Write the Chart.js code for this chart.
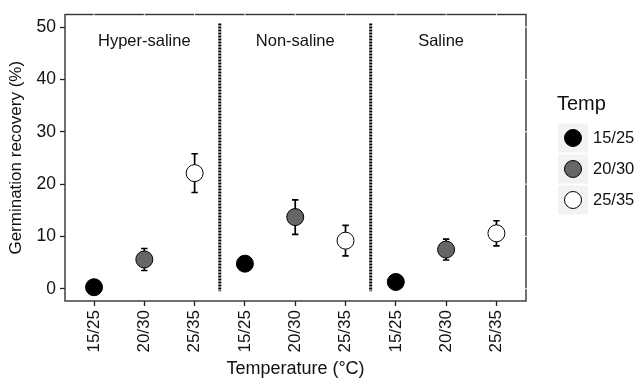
<!DOCTYPE html>
<html>
<head>
<meta charset="utf-8">
<script src="https://cdn.jsdelivr.net/npm/chart.js@4.4.1/dist/chart.umd.min.js"></script>
<style>
  html, body { margin: 0; padding: 0; background: #ffffff; }
  #wrap { width: 636px; height: 381px; }
</style>
</head>
<body>
<div id="wrap"><canvas id="c" width="636" height="381"></canvas></div>
<script>
// ---- Data ----
const tempLevels = ['15/25', '20/30', '25/35'];
const salinityGroups = ['Hyper-saline', 'Non-saline', 'Saline'];
const facetLabelX = [1, 4, 6.9];
const yTicks = [0, 10, 20, 30, 40, 50];

const mean1525 = [0.3, 4.8, 1.3];
const err1525  = [0.3, 0.4, 0.4];
const mean2030 = [5.6, 13.7, 7.5];
const err2030  = [2.1, 3.3, 2.0];
const mean2535 = [22.1, 9.2, 10.6];
const err2535  = [3.7, 2.9, 2.4];

const fills = ['#000000', '#666666', '#ffffff'];
const FONT = '"Liberation Sans", Arial, sans-serif';

const means = [mean1525, mean2030, mean2535];
const errs = [err1525, err2030, err2535];

const datasets = tempLevels.map((t, ti) => ({
  label: t,
  data: salinityGroups.map((g, gi) => ({ x: gi * 3 + ti, y: means[ti][gi], e: errs[ti][gi] })),
  backgroundColor: fills[ti],
  borderColor: '#000000',
  borderWidth: 1,
  pointRadius: 8.5,
  pointHoverRadius: 8.5
}));

const xTickVals = [];
for (let i = 0; i < salinityGroups.length * tempLevels.length; i++) xTickVals.push(i);
const dividers = [2.5, 5.5];

const decor = {
  id: 'decor',
  beforeDatasetsDraw(chart) {
    const { ctx, scales: { x, y } } = chart;
    ctx.save();
    // dotted facet dividers
    ctx.strokeStyle = '#000';
    ctx.lineWidth = 3;
    ctx.setLineDash([2, 1]);
    dividers.forEach(d => {
      const px = x.getPixelForValue(d);
      ctx.beginPath();
      ctx.moveTo(px, y.getPixelForValue(50.7));
      ctx.lineTo(px, y.getPixelForValue(-0.45));
      ctx.stroke();
    });
    ctx.setLineDash([]);
    // error bars
    ctx.lineWidth = 1.7;
    chart.data.datasets.forEach(ds => {
      ds.data.forEach(p => {
        const px = x.getPixelForValue(p.x);
        const y1 = y.getPixelForValue(p.y + p.e);
        const y0 = y.getPixelForValue(p.y - p.e);
        ctx.beginPath();
        ctx.moveTo(px, y0); ctx.lineTo(px, y1);
        ctx.moveTo(px - 3.2, y0); ctx.lineTo(px + 3.2, y0);
        ctx.moveTo(px - 3.2, y1); ctx.lineTo(px + 3.2, y1);
        ctx.stroke();
      });
    });
    // facet labels
    ctx.fillStyle = '#111';
    ctx.font = '16.5px ' + FONT;
    ctx.textAlign = 'center';
    ctx.textBaseline = 'middle';
    salinityGroups.forEach((g, gi) => {
      ctx.fillText(g, x.getPixelForValue(facetLabelX[gi]), y.getPixelForValue(47.2));
    });
    ctx.restore();
  },
  afterDraw(chart) {
    const { ctx, chartArea: a, scales: { x, y } } = chart;
    ctx.save();
    ctx.strokeStyle = '#333';
    ctx.lineWidth = 1.4;
    ctx.strokeRect(a.left, a.top, a.right - a.left, a.bottom - a.top);
    // white gridline gaps crossing the top and right borders
    ctx.fillStyle = '#fff';
    xTickVals.forEach(v => {
      const px = x.getPixelForValue(v);
      ctx.fillRect(px - 0.5, a.top - 1, 1, 2);
    });
    yTicks.forEach(v => {
      const py = y.getPixelForValue(v);
      ctx.fillRect(a.right - 1, py - 0.5, 2, 1);
    });
    // legend
    ctx.fillStyle = '#111';
    ctx.textAlign = 'left';
    ctx.textBaseline = 'middle';
    ctx.font = '20px ' + FONT;
    ctx.fillText('Temp', 557, 104);
    ctx.font = '16.5px ' + FONT;
    tempLevels.forEach((t, i) => {
      const cy = 138 + i * 31;
      ctx.fillStyle = '#f2f2f2';
      ctx.fillRect(558, cy - 14.5, 30, 29);
      ctx.beginPath();
      ctx.arc(573, cy, 8.5, 0, Math.PI * 2);
      ctx.fillStyle = fills[i];
      ctx.fill();
      ctx.lineWidth = 1;
      ctx.strokeStyle = '#000';
      ctx.stroke();
      ctx.fillStyle = '#111';
      ctx.fillText(t, 593, cy);
    });
    ctx.restore();
  }
};

new Chart(document.getElementById('c'), {
  type: 'scatter',
  data: { datasets },
  plugins: [decor],
  options: {
    responsive: false,
    animation: false,
    events: [],
    layout: { padding: { left: 0, right: 110, top: 13, bottom: 0 } },
    plugins: { legend: { display: false }, tooltip: { enabled: false } },
    scales: {
      x: {
        type: 'linear',
        min: -0.577,
        max: 8.588,
        afterBuildTicks: s => { s.ticks = xTickVals.map(v => ({ value: v })); },
        afterFit: s => { s.height = 80; },
        grid: { drawOnChartArea: false, drawTicks: true, tickLength: 5, tickColor: '#222', tickWidth: 1.3 },
        border: { display: false },
        ticks: {
          autoSkip: false,
          minRotation: 90,
          maxRotation: 90,
          padding: 4,
          color: '#111',
          font: { family: FONT, size: 17 },
          callback: v => tempLevels[v % tempLevels.length]
        },
        title: {
          display: true,
          text: 'Temperature (°C)',
          color: '#111',
          font: { family: FONT, size: 18 },
          padding: { top: 0, bottom: 1 }
        }
      },
      y: {
        min: -2.33,
        max: 52.4,
        afterBuildTicks: s => { s.ticks = yTicks.map(v => ({ value: v })); },
        afterFit: s => { s.width = 65; },
        grid: { drawOnChartArea: false, drawTicks: true, tickLength: 5, tickColor: '#222', tickWidth: 1.3 },
        border: { display: false },
        ticks: {
          padding: 4,
          color: '#111',
          font: { family: FONT, size: 17.5 }
        },
        title: {
          display: true,
          text: 'Germination recovery (%)',
          color: '#111',
          font: { family: FONT, size: 17 },
          padding: { top: 6, bottom: 0 }
        }
      }
    }
  }
});
</script>
</body>
</html>
